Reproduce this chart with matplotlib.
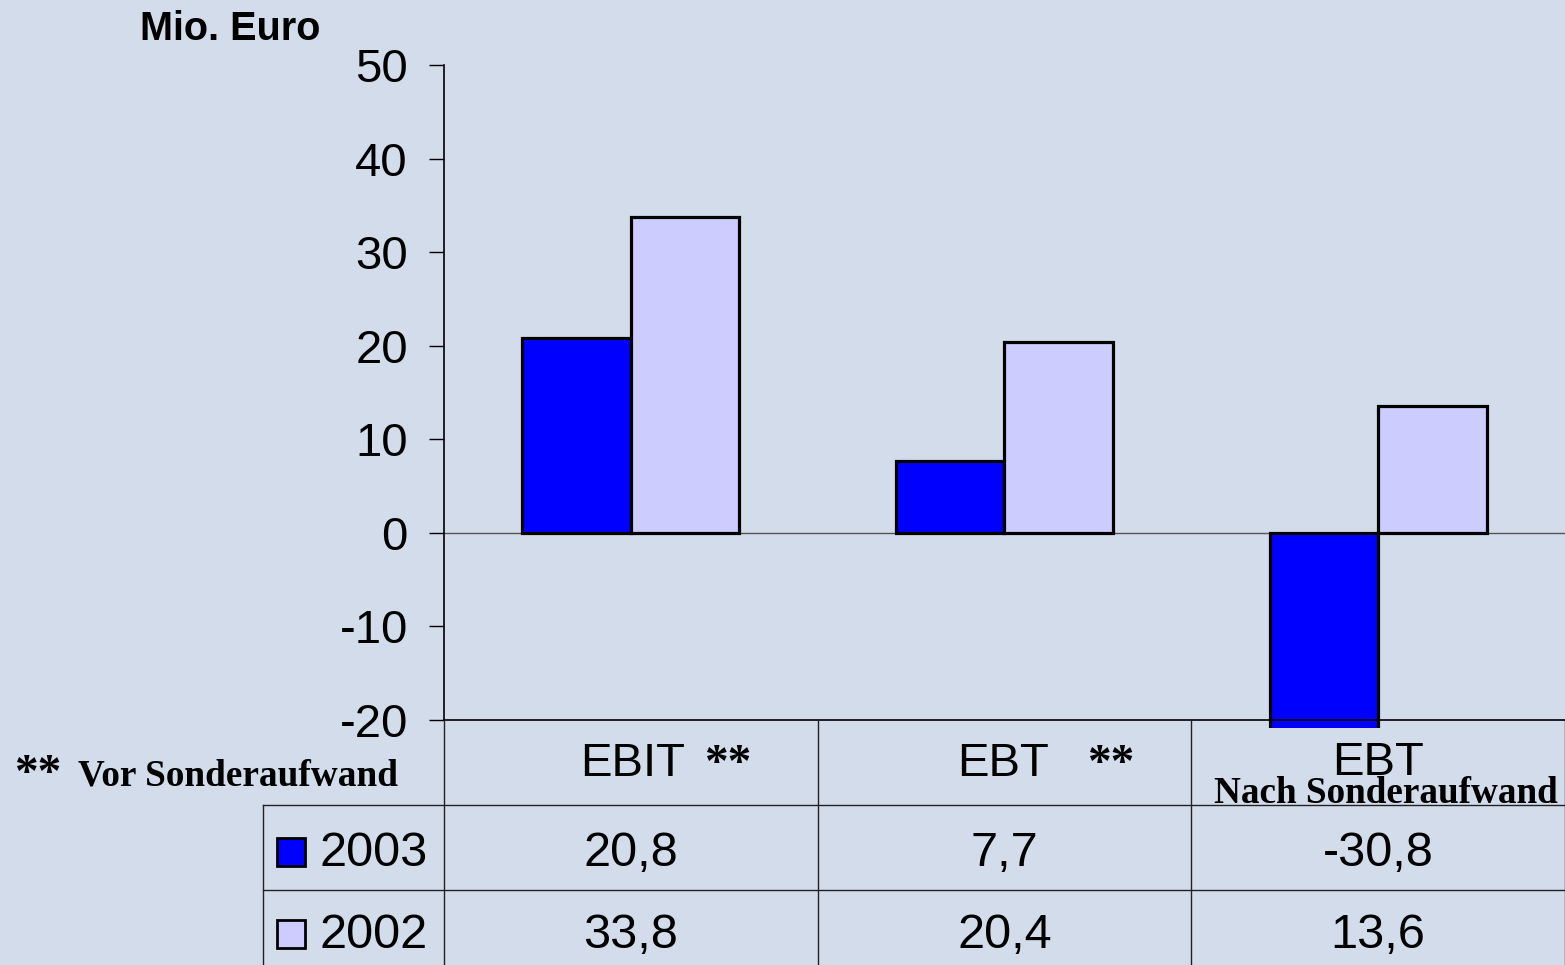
import matplotlib
matplotlib.use("Agg")
import matplotlib.pyplot as plt
from matplotlib.lines import Line2D
from matplotlib.transforms import Affine2D, Bbox, TransformedBbox, blended_transform_factory

# data
categories = ["EBIT", "EBT", "EBT"]
header_marks = ["**", "**", ""]
years = ["2003", "2002"]
values_2003 = [20.8, 7.7, -30.8]
values_2002 = [33.8, 20.4, 13.6]
labels_2003 = ["20,8", "7,7", "-30,8"]
labels_2002 = ["33,8", "20,4", "13,6"]
yticks = [-20, -10, 0, 10, 20, 30, 40, 50]

bg = "#D3DCEA"
c2003 = "#0000FF"
c2002 = "#CCCCFF"
sans = "Liberation Sans"
serif = "Liberation Serif"

plt.rcParams["axes.unicode_minus"] = False

W, H = 1565, 965
fig = plt.figure(figsize=(W / 100, H / 100), dpi=100, facecolor=bg)
ax = fig.add_axes([444 / W, 1 - 720 / H, 1 - 444 / W, (720 - 65) / H])
ax.set_facecolor(bg)

# pixel -> display transform for the layout around the axes
px = Affine2D().scale(1 / W, -1 / H).translate(0, 1) + fig.transFigure
colx = blended_transform_factory(ax.transData, px)

x = list(range(len(categories)))
bw = 0.29
bars1 = ax.bar([i - bw / 2 for i in x], values_2003, bw, color=c2003,
               edgecolor="black", linewidth=2.3)
bars2 = ax.bar([i + bw / 2 for i in x], values_2002, bw, color=c2002,
               edgecolor="black", linewidth=2.3)

ax.set_xlim(-0.5, 2.5)
ax.set_ylim(-20, 50)
ax.set_yticks(yticks)
ax.set_yticklabels([str(v) for v in yticks], fontsize=34, family=sans)
ax.set_xticks([])
ax.tick_params(axis="y", length=11, width=1, pad=15)
ax.axhline(0, color="#555555", lw=1, zorder=0.5)

# negative bar runs a little past the -20 line
clip = TransformedBbox(Bbox([[-0.5, -20.85], [2.5, 51]]), ax.transData)
for b in list(bars1) + list(bars2):
    b.set_clip_box(clip)

for s in ["top", "right"]:
    ax.spines[s].set_visible(False)
ax.spines["left"].set_linewidth(1.2)
ax.spines["bottom"].set_linewidth(1.2)

fig.text(140 / W, 1 - 40 / H, "Mio. Euro", fontsize=28.5, fontweight="bold",
         family=sans, va="baseline")

# table grid
lc = "#222222"
for xv in [-0.5, 0.5, 1.5, 2.5]:
    fig.add_artist(Line2D([xv, xv], [720, 965], color=lc, lw=1, transform=colx))
fig.add_artist(Line2D([263, 263], [805, 965], color=lc, lw=1, transform=px))
for yv in [805, 890]:
    fig.add_artist(Line2D([263, 1565], [yv, yv], color=lc, lw=1, transform=px))

# header row
fig.text(580 / W, 1 - 776 / H, "EBIT", fontsize=34, family=sans, va="baseline")
fig.text(704 / W, 1 - 776 / H, header_marks[0], fontsize=34, family=serif,
         fontweight="bold", va="baseline")
fig.text(957 / W, 1 - 776 / H, "EBT", fontsize=34, family=sans, va="baseline")
fig.text(1087 / W, 1 - 776 / H, header_marks[1], fontsize=34, family=serif,
         fontweight="bold", va="baseline")
ax.text(2, 775, categories[2], fontsize=34, family=sans, ha="center",
        va="baseline", transform=colx)
ax.text(2.02, 803, "Nach Sonderaufwand", fontsize=26.7, family=serif,
        fontweight="bold", ha="center", va="baseline", transform=colx)

fig.text(14 / W, 1 - 786 / H, "**", fontsize=34, family=serif,
         fontweight="bold", va="baseline")
fig.text(78 / W, 1 - 786 / H, "Vor Sonderaufwand", fontsize=26.8,
         family=serif, fontweight="bold", va="baseline")

# value rows
for labels, base, col, yr in [(labels_2003, 866, c2003, years[0]),
                              (labels_2002, 948, c2002, years[1])]:
    for i, lab in enumerate(labels):
        ax.text(i, base, lab, fontsize=35, family=sans, ha="center",
                va="baseline", transform=colx)
    fig.add_artist(plt.Rectangle((277, base - 28), 28, 28, facecolor=col,
                                 edgecolor="black", lw=2, transform=px))
    fig.text(319 / W, 1 - base / H, yr, fontsize=35, family=sans, va="baseline")

fig.savefig("out.png", dpi=100, facecolor=bg)
